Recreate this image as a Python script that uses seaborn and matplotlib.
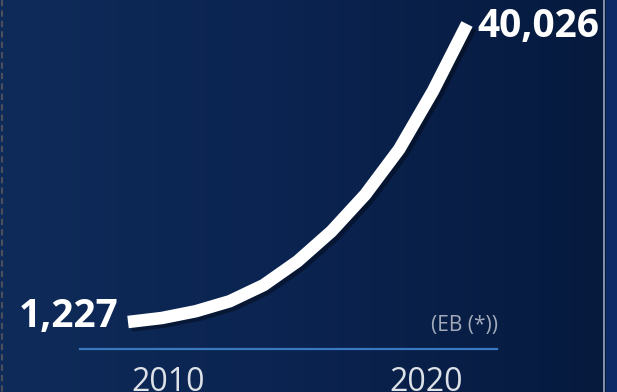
import numpy as np
import pandas as pd
import matplotlib
matplotlib.use("Agg")
import matplotlib.pyplot as plt
import matplotlib.patheffects as pe
from matplotlib.colors import LinearSegmentedColormap
import seaborn as sns

# Data volume per year, in exabytes
years = [2010, 2011, 2012, 2013, 2014, 2015, 2016, 2017, 2018, 2019, 2020]
volume_eb = [1227, 1750, 2630, 3930, 6030, 9130, 13030, 17830, 23730, 31330, 40026]
year_labels = ["2010", "2020"]
unit_label = "(EB (*))"

df = pd.DataFrame({"year": years, "eb": volume_eb})

W, H, DPI = 617, 392, 100
fig = plt.figure(figsize=(W / DPI, H / DPI), dpi=DPI)

# Navy gradient backdrop covering the whole figure
bg = fig.add_axes([0, 0, 1, 1])
cmap = LinearSegmentedColormap.from_list(
    "navy", [(0.0, "#0f2b59"), (0.45, "#0b2451"), (1.0, "#061a3e")]
)
grad = np.tile(np.linspace(0, 1, 600), (50, 1))
bg.imshow(grad, cmap=cmap, aspect="auto", extent=[0, 606, H, 0])
bg.axvspan(605.5, W, color="#0b2a66", lw=0)
bg.plot([604, 604], [0, H], color="#9aa6c0", lw=1.2)
bg.plot([2, 2], [0, H], color="#4b505c", lw=1.5, ls=(0, (3, 2)))
bg.set_xlim(0, W)
bg.set_ylim(H, 0)
bg.axis("off")

# Plot area in pixel terms: left 80, right 497, top 10, bottom 349
ax = fig.add_axes([80 / W, (H - 349) / H, 417 / W, 339 / H])
ax.patch.set_alpha(0)

sns.lineplot(
    data=df, x="year", y="eb", ax=ax, color="white", linewidth=9,
    solid_capstyle="butt", solid_joinstyle="round",
    path_effects=[pe.SimpleLineShadow(offset=(2.5, -2.5), shadow_color="black", alpha=0.35),
                  pe.Normal()],
)

ax.set_xlim(2008.584, 2020.885)
ax.set_ylim(-2288, 41848)
ax.set_xlabel("")
ax.set_ylabel("")
ax.set_xticks([])
ax.set_yticks([])
for side in ("top", "left", "right"):
    ax.spines[side].set_visible(False)
ax.spines["bottom"].set_color("#3a78c0")
ax.spines["bottom"].set_linewidth(1.6)

big = dict(family="Open Sans", fontweight="bold", fontsize=28, color="white",
           textcoords="offset pixels", annotation_clip=False)
ax.annotate(f"{volume_eb[0]:,}", xy=(years[0], volume_eb[0]), xytext=(-10, -5),
            ha="right", va="baseline", **big)
ax.annotate(f"{volume_eb[-1]:,}", xy=(years[-1], volume_eb[-1]), xytext=(10, -13),
            ha="left", va="baseline", **big)

ax.annotate(unit_label, xy=(1, 0), xycoords="axes fraction", xytext=(1, 18),
            textcoords="offset pixels", ha="right", va="baseline",
            family="Open Sans", fontsize=15, color="#a3abba")

# Year captions under the baseline
for label, frac in zip(year_labels, [(168 - 80) / 417, (426 - 80) / 417]):
    ax.annotate(label, xy=(frac, 0), xycoords="axes fraction", xytext=(0, -17),
                textcoords="offset pixels", ha="center", va="top",
                family="Open Sans", fontsize=23, color="#dde1e8",
                annotation_clip=False)

fig.savefig("out.png", dpi=DPI)
